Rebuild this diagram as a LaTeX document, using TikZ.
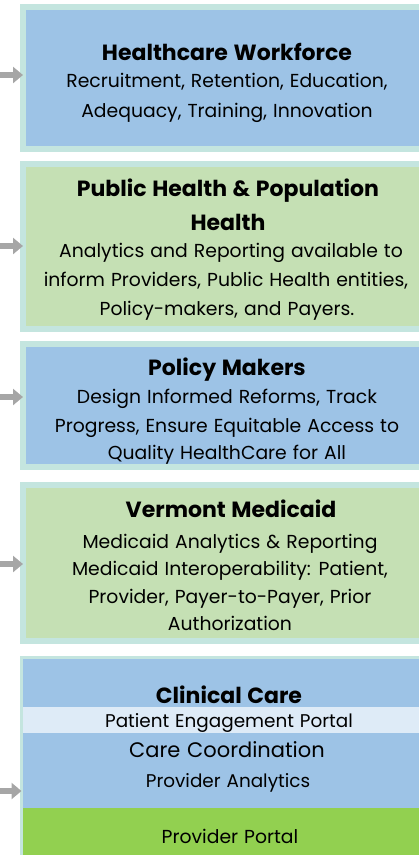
\documentclass[tikz,border=0pt]{standalone}
\usepackage{fontspec}
\setmainfont{Poppins}[WordSpace=1.2]
\usetikzlibrary{arrows.meta}
\definecolor{boxblue}{HTML}{9DC3E6}
\definecolor{boxgreen}{HTML}{C5E0B4}
\definecolor{rimteal}{HTML}{C4E5DF}
\definecolor{paleblue}{HTML}{DEEBF7}
\definecolor{brightgreen}{HTML}{92D050}
\definecolor{arrowgray}{HTML}{A6A6A6}
\tikzset{
  panel/.style={draw=rimteal, line width=6pt, anchor=north west, inner sep=0pt, outer sep=0pt},
  ttl/.style={font=\fontsize{22}{26}\selectfont\bfseries, anchor=base, inner sep=0pt},
  body/.style={font=\fontsize{18.8}{22}\selectfont, anchor=base, inner sep=0pt},
  feed/.style={draw=arrowgray, line width=6pt, -{Triangle[length=10pt,width=16pt]}}
}
\begin{document}
\begin{tikzpicture}[x=1pt,y=-1pt]
\useasboundingbox (0,0) rectangle (419,855);
% panels
\node[panel, fill=boxblue, minimum width=420pt, minimum height=142pt] (b1) at (23,7) {};
\node[panel, fill=boxgreen, minimum width=420pt, minimum height=165pt] (b2) at (23,164) {};
\node[panel, fill=boxblue, minimum width=420pt, minimum height=123pt] (b3) at (23,344) {};
\node[panel, fill=boxgreen, minimum width=420pt, minimum height=156pt] (b4) at (23,485) {};
\node[draw=rimteal, line width=3pt, fill=boxblue, anchor=north west, inner sep=0pt, outer sep=0pt, minimum width=420pt, minimum height=210pt] (b5) at (21.5,657.5) {};
\node[fill=paleblue, anchor=north west, inner sep=0pt, minimum width=400pt, minimum height=26pt] (pep) at (23,707) {};
\node[fill=brightgreen, anchor=north west, inner sep=0pt, minimum width=400pt, minimum height=50pt] (pp) at (23,808) {};
% texts
\node[ttl] (t1) at (227,60) {Healthcare Workforce};
\node[body] (l1a) at (227,87) {Recruitment, Retention, Education,};
\node[body] (l1b) at (227,117) {Adequacy, Training, Innovation};
\node[ttl] (t2a) at (228,196) {Public Health \& Population};
\node[ttl] (t2b) at (228,230) {Health};
\node[body] (l2a) at (231,257) {Analytics and Reporting available to};
\node[body] (l2b) at (226,286) {inform Providers, Public Health entities,};
\node[body] (l2c) at (227,315) {Policy-makers, and Payers.};
\node[ttl] (t3) at (227,375) {Policy Makers};
\node[body] (l3a) at (227,403) {Design Informed Reforms, Track};
\node[body] (l3b) at (227,432) {Progress, Ensure Equitable Access to};
\node[body] (l3c) at (227,459) {Quality HealthCare for All};
\node[ttl] (t4) at (231,517) {Vermont Medicaid};
\node[body] (l4a) at (230,548) {Medicaid Analytics \& Reporting};
\node[body] (l4b) at (230,575) {Medicaid Interoperability: Patient,};
\node[body] (l4c) at (230,603) {Provider, Payer-to-Payer, Prior};
\node[body] (l4d) at (230,630) {Authorization};
\node[ttl] (t5) at (229,703) {Clinical Care};
\node[body, font=\fontsize{18.4}{22}\selectfont] (t6) at (229,727) {Patient Engagement Portal};
\node[body, font=\fontsize{21}{24}\selectfont] (t7) at (227,757) {Care Coordination};
\node[body, font=\fontsize{18.4}{22}\selectfont] (t8) at (228,787) {Provider Analytics};
\node[body] (t9) at (230,843) {Provider Portal};
% arrows
\coordinate (a1) at (0,75);
\coordinate (a2) at (0,246);
\coordinate (a3) at (0,397);
\coordinate (a4) at (0,564);
\coordinate (a5) at (0,791);
\draw[feed] (a1) -- (a1 -| b1.west);
\draw[feed] (a2) -- (a2 -| b2.west);
\draw[feed] (a3) -- (a3 -| b3.west);
\draw[feed] (a4) -- (a4 -| b4.west);
\draw[feed] (a5) -- (a5 -| b5.west);
\end{tikzpicture}
\end{document}
